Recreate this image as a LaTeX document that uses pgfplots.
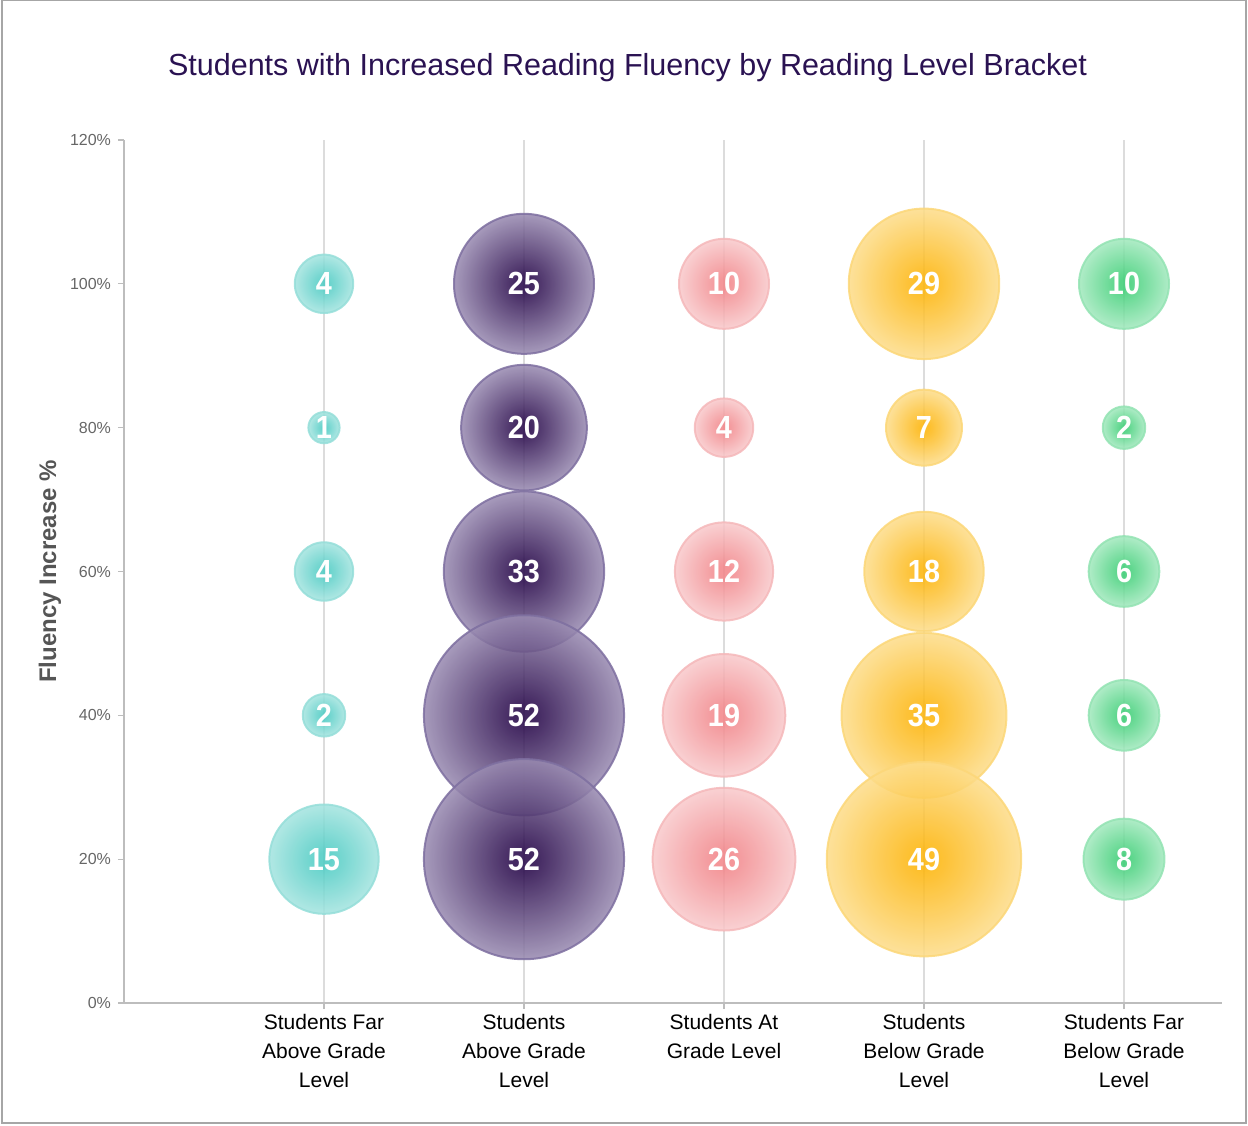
\documentclass[border=0pt]{standalone}
\usepackage{pgfplots}
\pgfplotsset{compat=1.18}
\usepackage{fontspec}
\setmainfont{Liberation Sans}
\newfontfamily\bubfont[FakeStretch=0.9]{Liberation Sans}

\definecolor{titlecol}{HTML}{2A1252}
\definecolor{tickcol}{HTML}{666666}
\definecolor{labcol}{HTML}{555555}
\definecolor{axiscol}{HTML}{BDBDBD}
\definecolor{gridcol}{HTML}{DCDCDC}

% bubble colours: centre, edge, rim
\definecolor{tC}{HTML}{4FCCC4}\definecolor{tE}{HTML}{A6E4E0}\definecolor{tB}{HTML}{95DED9}
\definecolor{pC}{HTML}{2A0B4C}\definecolor{pE}{HTML}{9A8CB2}\definecolor{pB}{HTML}{7E6FA0}
\definecolor{rC}{HTML}{F2878B}\definecolor{rE}{HTML}{F8CACC}\definecolor{rB}{HTML}{F5B8BA}
\definecolor{yC}{HTML}{FDB60F}\definecolor{yE}{HTML}{FDDD8C}\definecolor{yB}{HTML}{FCD778}
\definecolor{gC}{HTML}{40CF78}\definecolor{gE}{HTML}{A4E9BF}\definecolor{gB}{HTML}{93E3B3}

\pgfdeclareradialshading{bubT}{\pgfpoint{0bp}{0bp}}{color(0bp)=(tC); color(3bp)=(tC); color(25bp)=(tE); color(50bp)=(tE)}
\pgfdeclareradialshading{bubP}{\pgfpoint{0bp}{0bp}}{color(0bp)=(pC); color(3bp)=(pC); color(25bp)=(pE); color(50bp)=(pE)}
\pgfdeclareradialshading{bubR}{\pgfpoint{0bp}{0bp}}{color(0bp)=(rC); color(3bp)=(rC); color(25bp)=(rE); color(50bp)=(rE)}
\pgfdeclareradialshading{bubY}{\pgfpoint{0bp}{0bp}}{color(0bp)=(yC); color(3bp)=(yC); color(25bp)=(yE); color(50bp)=(yE)}
\pgfdeclareradialshading{bubG}{\pgfpoint{0bp}{0bp}}{color(0bp)=(gC); color(3bp)=(gC); color(25bp)=(gE); color(50bp)=(gE)}

\pgfplotsset{
  bub/.style 2 args={
    only marks, mark=none,
    nodes near coords, point meta=explicit,
    visualization depends on={13.6*sqrt(\thisrow{n})+2 \as \dia},
    nodes near coords style={circle, anchor=center, inner sep=0pt,
      minimum size=\dia pt, shading=#1, draw=#2, line width=1pt,
      fill opacity=0.88, draw opacity=0.85, text opacity=1, text=white,
      font=\bubfont\fontsize{16}{16}\selectfont\bfseries},
  },
}

\begin{document}
\begin{tikzpicture}
\begin{axis}[
  scale only axis,
  width=549pt, height=431.5pt,
  xmin=0, xmax=5.49, ymin=0, ymax=120,
  clip=false,
  axis x line*=bottom, axis y line*=left,
  axis line style={axiscol, line width=0.8pt},
  tick style={axiscol, line width=0.6pt},
  tick align=outside, major tick length=3pt,
  xtick={1,2,3,4,5},
  xticklabels={Students Far\\Above Grade\\Level, Students\\Above Grade\\Level, Students At\\Grade Level, Students\\Below Grade\\Level, Students Far\\Below Grade\\Level},
  xticklabel style={align=center, font=\fontsize{10.5}{14.5}\selectfont, text=black, yshift=1pt},
  ytick={0,20,...,120},
  yticklabel={\pgfmathprintnumber{\tick}\%},
  yticklabel style={font=\fontsize{8}{10}\selectfont, text=tickcol},
  /pgf/number format/assume math mode=true,
  xmajorgrids, major grid style={gridcol, line width=0.6pt},
  ylabel={Fluency Increase \%},
  ylabel style={at={(rel axis cs:0,0.5)}, anchor=center, yshift=37pt,
    font=\fontsize{12}{14}\selectfont\bfseries, text=labcol},
  title={Students with Increased Reading Fluency by Reading Level Bracket},
  title style={at={(rel axis cs:0.4586,1)}, anchor=center, yshift=30pt,
    font=\fontsize{15.25}{18}\selectfont, text=titlecol},
]
\coordinate (sw) at (rel axis cs:0,0);
\coordinate (ne) at (rel axis cs:1,1);

\addplot[bub={bubT}{tB}] table[x=x, y=y, meta=n] {
x y n
1 100 4
1 80 1
1 60 4
1 40 2
1 20 15
};
\addplot[bub={bubP}{pB}] table[x=x, y=y, meta=n] {
x y n
2 100 25
2 80 20
2 60 33
2 40 52
2 20 52
};
\addplot[bub={bubR}{rB}] table[x=x, y=y, meta=n] {
x y n
3 100 10
3 80 4
3 60 12
3 40 19
3 20 26
};
\addplot[bub={bubY}{yB}] table[x=x, y=y, meta=n] {
x y n
4 100 29
4 80 7
4 60 18
4 40 35
4 20 49
};
\addplot[bub={bubG}{gB}] table[x=x, y=y, meta=n] {
x y n
5 100 10
5 80 2
5 60 6
5 40 6
5 20 8
};
\end{axis}
\draw[gray!70, line width=0.6pt] ([shift={(-61pt,-60pt)}]sw) rectangle ([shift={(12pt,69.7pt)}]ne);
\pgfresetboundingbox
\path ([shift={(-62pt,-61pt)}]sw) rectangle ([shift={(13pt,70pt)}]ne);
\end{tikzpicture}
\end{document}
